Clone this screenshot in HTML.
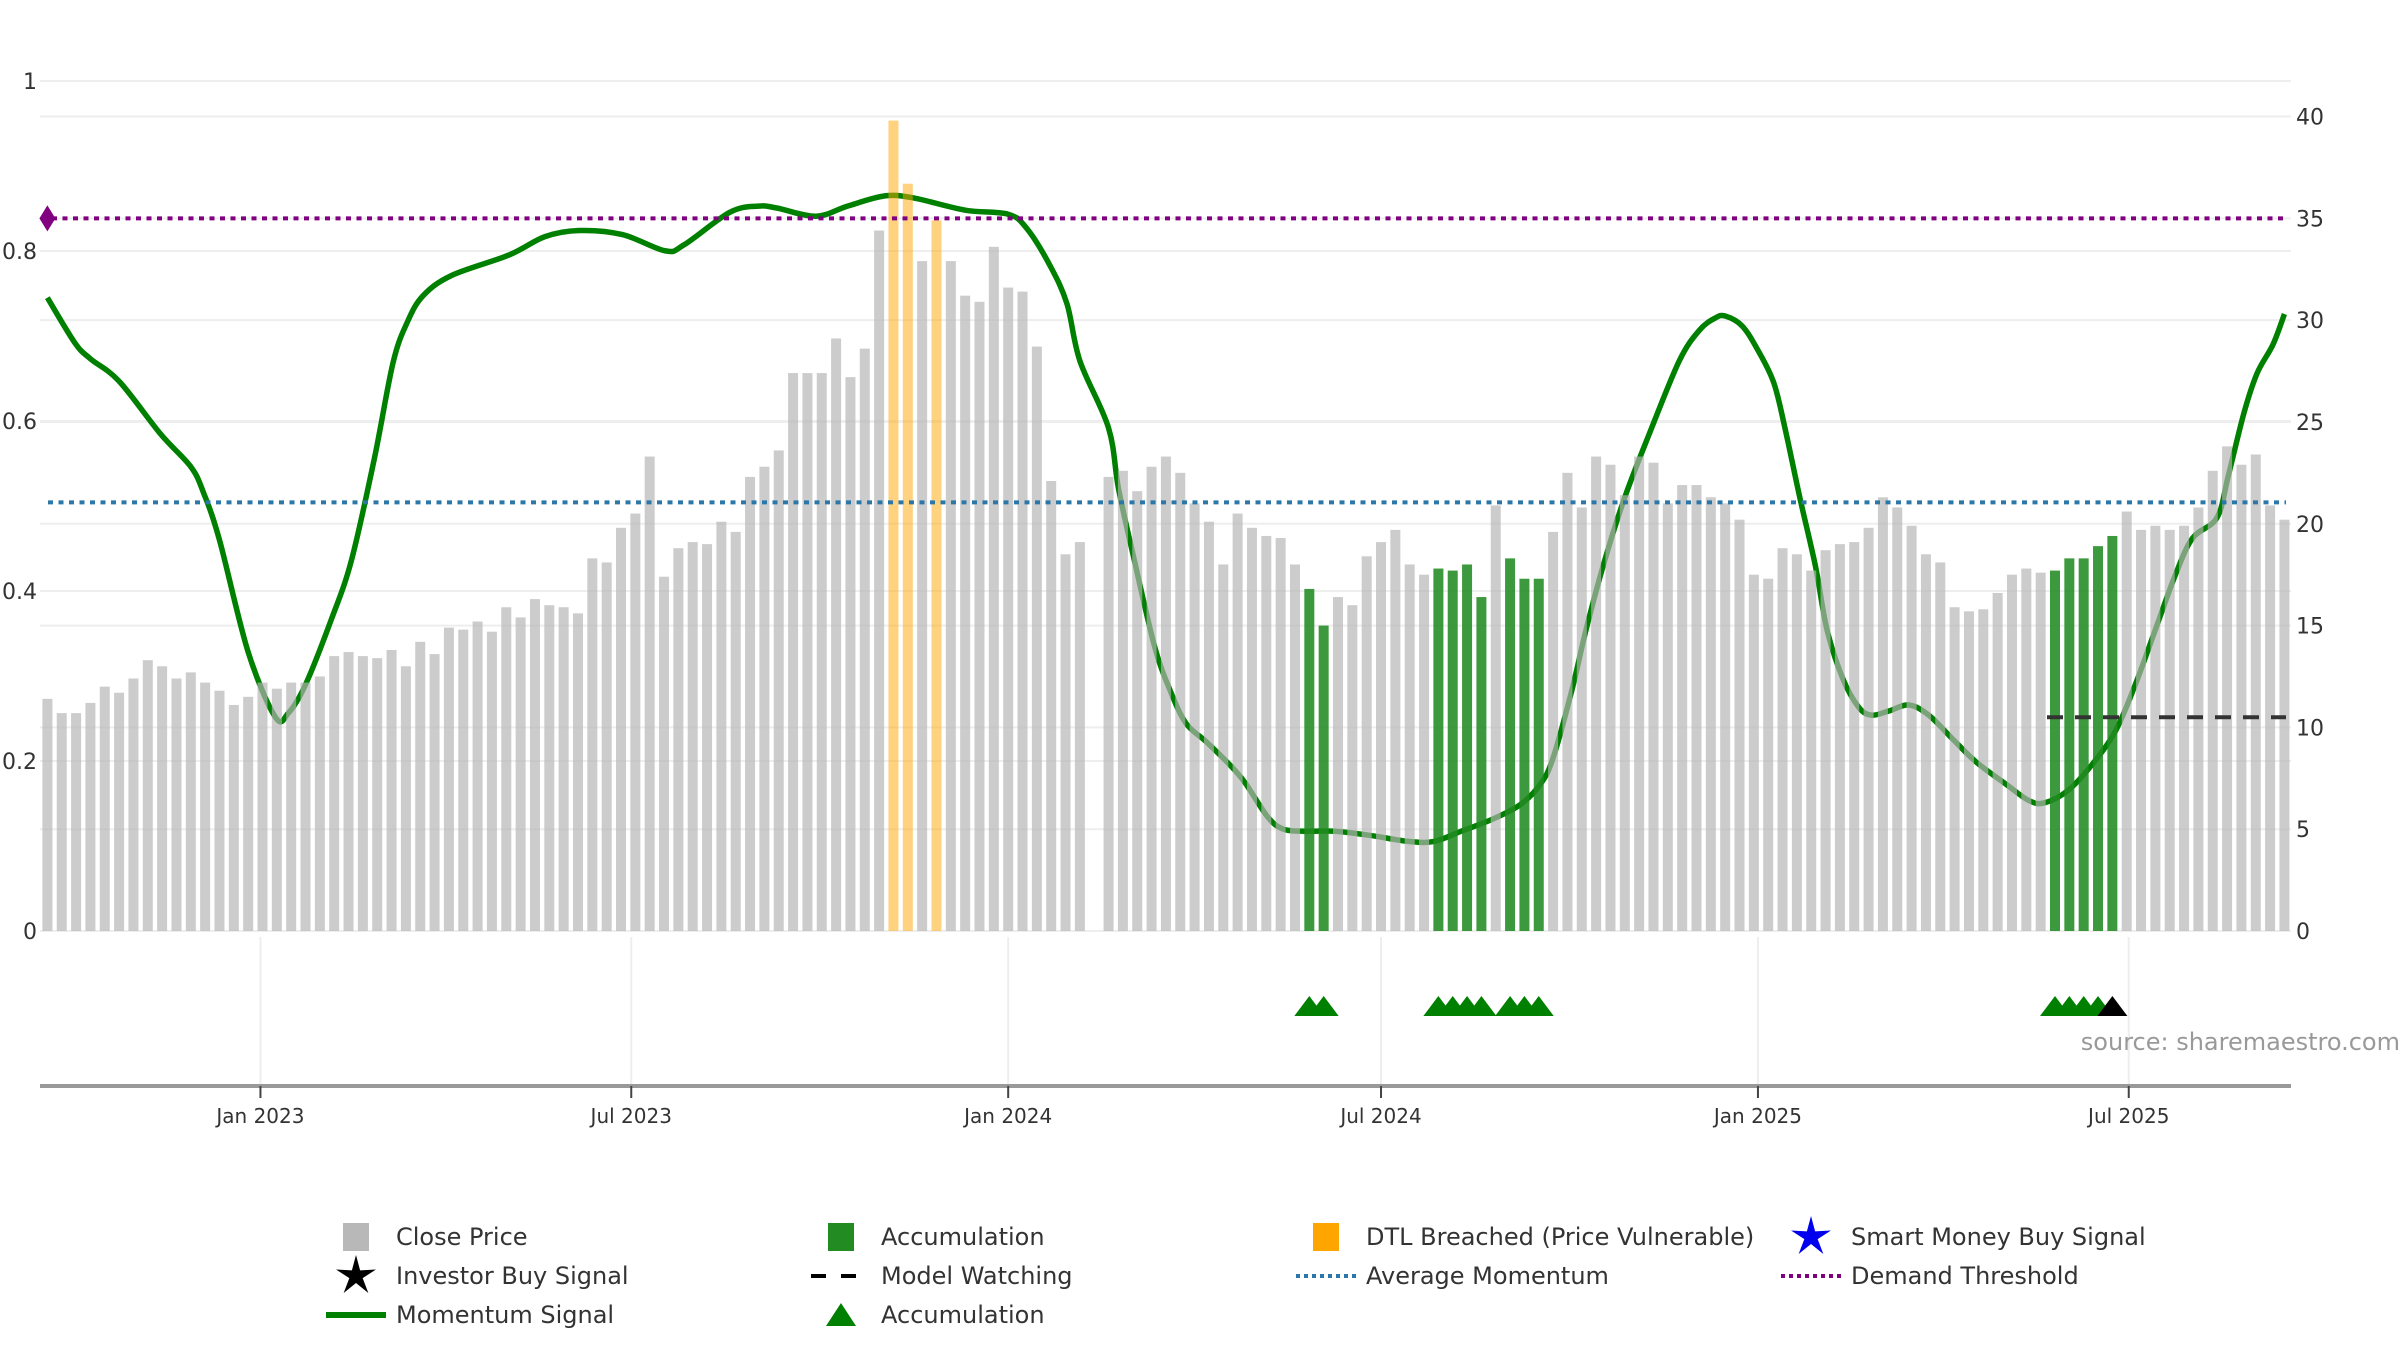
<!DOCTYPE html>
<html><head><meta charset="utf-8">
<style>
html,body{margin:0;padding:0;background:#fff;}
svg{display:block;font-family:"DejaVu Sans","Liberation Sans",sans-serif;}
</style></head>
<body>
<svg id="chart" width="2400" height="1350" viewBox="0 0 2400 1350" xmlns="http://www.w3.org/2000/svg">
<g id="grid"></g>
<g id="refs"></g>
<g id="momentum"></g>
<g id="bars"></g>
<g id="overlay"></g>
<g id="axes"></g>
<g id="markers"></g>
<text x="2400" y="1050" text-anchor="end" font-size="24" fill="#999">source: sharemaestro.com</text>
<g id="legend"></g>
</svg>
<script>
const closePrice = [11.4,10.7,10.7,11.2,12.0,11.7,12.4,13.3,13.0,12.4,
12.7,12.2,11.8,11.1,11.5,12.2,11.9,12.2,12.2,12.5,
13.5,13.7,13.5,13.4,13.8,13.0,14.2,13.6,14.9,14.8,
15.2,14.7,15.9,15.4,16.3,16.0,15.9,15.6,18.3,18.1,
19.8,20.5,23.3,17.4,18.8,19.1,19.0,20.1,19.6,22.3,
22.8,23.6,27.4,27.4,27.4,29.1,27.2,28.6,34.4,39.8,
36.7,32.9,34.9,32.9,31.2,30.9,33.6,31.6,31.4,28.7,
22.1,18.5,19.1,0,22.3,22.6,21.6,22.8,23.3,22.5,
21.0,20.1,
18.0,20.5,19.8,19.4,19.3,18.0,16.8,15.0,16.4,16.0,
18.4,19.1,19.7,18.0,17.5,17.8,17.7,18.0,16.4,20.9,
18.3,17.3,17.3,19.6,22.5,20.8,23.3,22.9,21.4,23.3,
23.0,21.0,21.9,21.9,21.3,21.0,20.2,17.5,17.3,18.8,
18.5,17.7,18.7,19.0,19.1,19.8,21.3,20.8,19.9,18.5,
18.1,15.9,15.7,15.8,16.6,17.5,17.8,17.6,17.7,18.3,
18.3,18.9,19.4,20.6,19.7,19.9,19.7,19.9,20.8,22.6,
23.8,22.9,23.4,20.9,20.2];
const dtlBreached = [59,60,62];
const accumulationBars = [88,89,97,98,99,100,102,103,104,140,141,142,143,144];
const accumulationMarkers = [88,89,97,98,99,100,102,103,104,140,141,142,143];
const investorBuyMarkers = [144];
const momentumIdx = [0,1.9,3,5,7.9,10,10.9,12,14,15.9,
16.8,18,19.8,21.2,22.8,24.1,25.1,26.2,28.2,32.2,
34.7,37.1,40.1,43.1,44.4,47.6,49.6,50.9,53.6,55.8,
58.4,60.4,64,67,68.3,69.9,71.1,72,74,74.7,
75.8,77.2,78.3,79.4,80.8,82.4,83.5,85.1,86.2,87.8,
89.8,92.2,94.9,96.7,98.6,100.8,102.7,104.1,105,106.3,
107.3,108.6,110,111.7,113.8,115.2,116.3,117,118.2,119.3,
120.4,121.2,122.2,123.3,124.1,125.2,126.3,127.2,128.4,129.8,
131.2,132.9,134.5,136.6,138.2,139.3,140.9,142.5,144.2,145.6,
147,148.4,149.6,151.3,152.1,153.2,154.1,155.2,156];
const momentumVal = [31.1,28.9,28.1,27.0,24.4,22.8,21.5,19.2,13.7,10.5,
10.7,12.1,15.3,18.2,23.2,27.9,29.9,31.2,32.2,33.2,
34.1,34.4,34.2,33.4,33.7,35.3,35.6,35.5,35.1,35.6,
36.1,36.0,35.4,35.2,34.5,32.7,30.8,28.0,24.7,21.7,
18.2,14.0,11.8,10.2,9.3,8.2,7.3,5.6,5.0,4.9,
4.9,4.7,4.4,4.4,4.9,5.5,6.2,7.2,8.5,11.8,
14.8,18.2,21.3,24.4,28.0,29.5,30.1,30.2,29.7,28.5,
26.9,24.6,21.3,17.9,14.8,12.4,11.0,10.6,10.8,11.1,
10.6,9.4,8.3,7.2,6.4,6.3,6.9,8.1,9.8,12.1,
14.8,17.5,19.3,20.3,22.4,25.5,27.4,28.8,30.3];
const demandThreshold = 35;
const averageMomentum = 21.05;
const modelWatching = 10.5;
const modelWatchingStart = 140;
const rightTicks = [0,5,10,15,20,25,30,35,40];
const leftTicks = [0,0.2,0.4,0.6,0.8,1];
const leftTickLabels = ["0","0.2","0.4","0.6","0.8","1"];
const xTickDates = ["2023-01-01","2023-07-01","2024-01-01","2024-07-01","2025-01-01","2025-07-01"];
const xTickLabels = ["Jan 2023","Jul 2023","Jan 2024","Jul 2024","Jan 2025","Jul 2025"];
const firstBarDate = "2022-09-19";

const NS="http://www.w3.org/2000/svg";
const X0=47.4, STEP=14.34, PL=40, PR=2291, Y0=931;
const xi = i => X0 + i*STEP;
const yR = v => Y0 - v*(814.5/40);
const yL = v => Y0 - v*850;
const dayMs=86400000;
const xd = s => xi((Date.parse(s)-Date.parse(firstBarDate))/dayMs/7);
function mk(tag, attrs, parent){const e=document.createElementNS(NS,tag);for(const k in attrs)e.setAttribute(k,attrs[k]);parent.appendChild(e);return e;}
const G=id=>document.getElementById(id);

rightTicks.forEach(t=>{const l=mk('line',{x1:PL,x2:PR,y1:yR(t),y2:yR(t),stroke:'#eeeeee','stroke-width':2},G('grid'));

});
leftTicks.forEach(t=>{const l=mk('line',{x1:PL,x2:PR,y1:yL(t),y2:yL(t),stroke:'#eeeeee','stroke-width':2},G('grid'));

});
xTickDates.forEach(d=>{const l=mk('line',{x1:xd(d),x2:xd(d),y1:937,y2:1086,stroke:'#eeeeee','stroke-width':2},G('grid'));

});

(function(){
 const p=momentumIdx.map((v,i)=>[xi(v),yR(momentumVal[i])]);
 let d=`M${p[0][0]},${p[0][1]}`;
 for(let i=0;i<p.length-1;i++){const a=p[i-1]||p[i],b=p[i],c=p[i+1],e=p[i+2]||c;
  d+=` C${b[0]+(c[0]-a[0])/6},${b[1]+(c[1]-a[1])/6} ${c[0]-(e[0]-b[0])/6},${c[1]-(e[1]-b[1])/6} ${c[0]},${c[1]}`;}
 const path=mk('path',{d:d,fill:'none',stroke:'#008000','stroke-width':5.5,'stroke-linejoin':'round'},G('momentum'));
 
 
})();

closePrice.forEach((v,i)=>{
 if(v<=0) return;
 let fill='#b4b4b4',op=0.68,name='close-price-bar';
 if(dtlBreached.includes(i)){fill='#ffa500';op=0.5;name='dtl-breached-bar';}
 else if(accumulationBars.includes(i)){fill='#228b22';op=0.88;name='accumulation-bar';}
 const r=mk('rect',{x:xi(i)-5,y:yR(v),width:10,height:Y0-yR(v),fill:fill,'fill-opacity':op},G('bars'));
 
 
});

(function(){
 const o=G('overlay');
 const a=mk('line',{x1:52,x2:PR-5,y1:yR(demandThreshold),y2:yR(demandThreshold),stroke:'#800080','stroke-width':4,'stroke-dasharray':'5 5.5'},o);
 
 
 const b=mk('line',{x1:48,x2:PR-5,y1:yR(averageMomentum),y2:yR(averageMomentum),stroke:'#2a77a8','stroke-width':4,'stroke-dasharray':'5 5.5'},o);
 
 
 const c=mk('line',{x1:xi(modelWatchingStart)-8,x2:PR-5,y1:yR(modelWatching),y2:yR(modelWatching),stroke:'#333','stroke-width':4,'stroke-dasharray':'16 12'},o);
 
 
 const y=yR(demandThreshold);
 const dm=mk('polygon',{points:`${xi(0)-8},${y} ${xi(0)},${y-13} ${xi(0)+8},${y} ${xi(0)},${y+13}`,fill:'#800080'},o);
 
 
})();

(function(){
 const ax=G('axes');
 const base=mk('line',{x1:PL,x2:PR,y1:1086,y2:1086,stroke:'#999','stroke-width':4},ax);
 
 
 xTickDates.forEach((d,i)=>{
  const t=mk('line',{x1:xd(d),x2:xd(d),y1:1086,y2:1098,stroke:'#444','stroke-width':2},ax);
  
  
  const l=mk('text',{x:xd(d),y:1123,'text-anchor':'middle','font-size':20,fill:'#333'},ax);
  l.textContent=xTickLabels[i];
  
  
 });
 leftTicks.forEach((t,i)=>{
  const l=mk('text',{x:37,y:yL(t)+8,'text-anchor':'end','font-size':22,fill:'#333'},ax);
  l.textContent=leftTickLabels[i];
  
  
 });
 rightTicks.forEach(t=>{
  const l=mk('text',{x:2296,y:yR(t)+8,'text-anchor':'start','font-size':22,fill:'#333'},ax);
  l.textContent=String(t);
  
  
 });
})();

function tri(i,color,name){
 const cx=xi(i),y=1016;
 const p=mk('polygon',{points:`${cx-15},${y} ${cx},${y-20} ${cx+15},${y}`,fill:color},G('markers'));
 
 
}
accumulationMarkers.forEach(i=>tri(i,'#008000','accumulation-marker'));
investorBuyMarkers.forEach(i=>tri(i,'#000','investor-buy-marker'));

function star(cx,cy,ro,ri,color,g){let pts=[];for(let k=0;k<10;k++){const a=-Math.PI/2+k*Math.PI/5,r=k%2?ri:ro;pts.push(`${cx+r*Math.cos(a)},${cy+r*Math.sin(a)}`);}
 return mk('polygon',{points:pts.join(' '),fill:color},g);}
(function(){
 const lg=G('legend');
 const cols=[356,841,1326,1811], rows=[1237,1276,1315];
 const items=[
  [0,0,'rect','#b8b8b8','Close Price'],[1,0,'rect','#228b22','Accumulation'],[2,0,'rect','#ffa500','DTL Breached (Price Vulnerable)'],[3,0,'star','#0000ee','Smart Money Buy Signal'],
  [0,1,'star','#000','Investor Buy Signal'],[1,1,'dash','#000','Model Watching'],[2,1,'dot','#2a77a8','Average Momentum'],[3,1,'dot','#800080','Demand Threshold'],
  [0,2,'line','#008000','Momentum Signal'],[1,2,'tri','#008000','Accumulation']];
 items.forEach(it=>{
  const g=mk('g',{},lg);
  
  
  const cx=cols[it[0]],cy=rows[it[1]],c=it[3];
  let ic;
  if(it[2]==='rect') ic=mk('rect',{x:cx-13,y:cy-14,width:26,height:28,fill:c},g);
  else if(it[2]==='star') ic=star(cx,cy,21,7,c,g);
  else if(it[2]==='dash') ic=mk('line',{x1:cx-30,x2:cx+30,y1:cy,y2:cy,stroke:c,'stroke-width':4,'stroke-dasharray':'15 15'},g);
  else if(it[2]==='dot') ic=mk('line',{x1:cx-30,x2:cx+30,y1:cy,y2:cy,stroke:c,'stroke-width':4,'stroke-dasharray':'4 4'},g);
  else if(it[2]==='line') ic=mk('line',{x1:cx-30,x2:cx+30,y1:cy,y2:cy,stroke:c,'stroke-width':6},g);
  else ic=mk('polygon',{points:`${cx-15},${cy+11} ${cx},${cy-12} ${cx+15},${cy+11}`,fill:c},g);
  
  
  const t=mk('text',{x:cx+40,y:cy+8,'font-size':24,fill:'#333'},g);
  t.textContent=it[4];
  
  
 });
})();
</script>
</body></html>
